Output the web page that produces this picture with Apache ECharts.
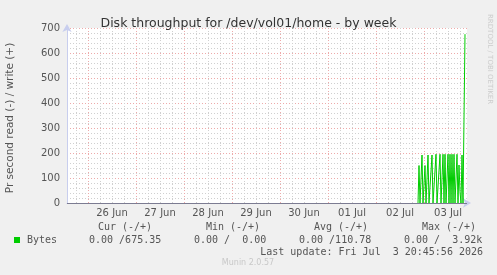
<!DOCTYPE html>
<html>
<head>
<meta charset="utf-8">
<script src="https://cdn.jsdelivr.net/npm/echarts@6/dist/echarts.min.js"></script>
<style>
html,body{margin:0;padding:0;background:#f0f0f0;}
#chart{width:497px;height:275px;}
</style>
</head>
<body>
<div id="chart"></div>
<script>
// ---- data ----
const titleText = 'Disk throughput for /dev/vol01/home - by week';
const yAxisTitle = 'Pr second read (-) / write (+)';
const startUTC = Date.UTC(2026, 5, 25, 13, 30); // first 30-min slot
const slotMinutes = 30;
const slotCount = 401;
const monthNames = ['Jan','Feb','Mar','Apr','May','Jun','Jul','Aug','Sep','Oct','Nov','Dec'];
const yTicks = [0, 100, 200, 300, 400, 500, 600, 700];
// write bytes/s, one value per 30 min, beginning at writeStartSlot (02 Jul 21:00)
const writeStartSlot = 351;
const writeValues = [
  0, 150, 0, 0, 192, 0, 0, 150, 0, 0,
  192, 0, 0, 0, 192, 0, 0, 0, 195, 0,
  0, 0, 195, 0, 0, 195, 0, 195, 0, 0,
  195, 0, 195, 0, 195, 0, 195, 0, 0, 195,
  0, 152, 45, 0, 192, 0, 0, 675.35
];
const legendName = 'Bytes';
const statHeaders = ['Cur (-/+)', 'Min (-/+)', 'Avg (-/+)', 'Max (-/+)'];
const statValues = ['0.00 /675.35', '0.00 /  0.00', '0.00 /110.78', '0.00 /  3.92k'];
const lastUpdate = 'Last update: Fri Jul  3 20:45:56 2026';
const footer = 'Munin 2.0.57';
const watermark = 'RRDTOOL / TOBI OETIKER';

// ---- build ----
function pad(n){return (n<10?'0':'')+n;}
const categories = [];
for (let i = 0; i < slotCount; i++) {
  const d = new Date(startUTC + i * slotMinutes * 60000);
  categories.push(d.getUTCFullYear() + '-' + pad(d.getUTCMonth()+1) + '-' + pad(d.getUTCDate()) + ' ' + pad(d.getUTCHours()) + ':' + pad(d.getUTCMinutes()));
}
const seriesData = categories.map((c, i) => {
  const k = i - writeStartSlot;
  return (k >= 0 && k < writeValues.length) ? writeValues[k] : null;
});
const hm = v => v.slice(11);
const isNoon = (i, v) => hm(v) === '12:00';
const isMidnight = (i, v) => hm(v) === '00:00';
const isSixHour = (i, v) => { const t = hm(v); return t === '06:00' || t === '12:00' || t === '18:00'; };
const dayLabel = v => v.slice(8,10) + ' ' + monthNames[parseInt(v.slice(5,7),10)-1];

const FONT = 'DejaVu Sans';
const MONO = 'DejaVu Sans Mono';
const TXT = '#555555';
const RED = '#eeaaaa';
const GRAY = '#d0d0d0';

const chart = echarts.init(document.getElementById('chart'), null, {renderer:'canvas'});
const grid = {left: 67, top: 28, width: 400, height: 175};
const statX = [89, 194, 299, 404];

const graphics = [
  {type:'text', x: 10, y: 118, rotation: Math.PI/2,
   style:{text: yAxisTitle, fill: TXT, font: '10.5px "' + FONT + '"', align:'center', verticalAlign:'middle'}},
  {type:'rect', shape:{x:14, y:237, width:6, height:6}, style:{fill:'#00cc00'}},
  {type:'text', x: 27, y: 240, style:{text: legendName, fill: TXT, font: '10px "' + MONO + '"', verticalAlign:'middle'}},
  {type:'text', x: 483, y: 252, style:{text: lastUpdate, fill: TXT, font: '10px "' + MONO + '"', align:'right', verticalAlign:'middle'}},
  {type:'text', x: 248, y: 263, style:{text: footer, fill: '#c8c8c8', font: '8px "' + FONT + '"', align:'center', verticalAlign:'middle'}},
  {type:'text', x: 489.5, y: 14, rotation: -Math.PI/2,
   style:{text: watermark, fill: '#cccccc', font: '7px "' + FONT + '"', align:'left', verticalAlign:'middle'}}
];
const headerCenters = [125, 233, 341, 449];
statHeaders.forEach((h, i) => graphics.push({type:'text', x: headerCenters[i], y: 227,
  style:{text: h, fill: TXT, font: '10px "' + MONO + '"', align:'center', verticalAlign:'middle'}}));
statValues.forEach((s, i) => graphics.push({type:'text', x: statX[i], y: 240,
  style:{text: s, fill: TXT, font: '10px "' + MONO + '"', align:'left', verticalAlign:'middle'}}));

chart.setOption({
  backgroundColor: '#f0f0f0',
  animation: false,
  title: {text: titleText, left: 'center', top: 12,
    textStyle: {fontFamily: FONT, fontSize: 12.5, fontWeight: 'normal', color: '#333333'}},
  grid: Object.assign({backgroundColor: '#ffffff', show: true, borderWidth: 0}, grid),
  xAxis: [
    {type: 'category', data: categories, boundaryGap: false, gridIndex: 0,
     axisLine: {show: true, symbol: ['none', 'arrow'], symbolSize: [7, 8], symbolOffset: [0, 4],
       lineStyle: {color: '#c8ceee', width: 1}},
     axisTick: {show: false},
     axisLabel: {interval: isNoon, formatter: dayLabel, color: TXT, fontFamily: FONT, fontSize: 10, margin: 5},
     splitLine: {show: true, interval: isMidnight, lineStyle: {color: RED, type: [1, 2], width: 1}}},
    {type: 'category', data: categories, boundaryGap: false, gridIndex: 0, position: 'bottom',
     axisLine: {show: false}, axisTick: {show: false}, axisLabel: {show: false},
     splitLine: {show: true, interval: isSixHour, lineStyle: {color: GRAY, type: [1, 2], width: 1}}}
  ],
  yAxis: {type: 'value', min: yTicks[0], max: yTicks[yTicks.length-1], interval: 100,
    axisLine: {show: true, symbol: ['none', 'arrow'], symbolSize: [7, 8], symbolOffset: [0, 4],
      lineStyle: {color: '#c8ceee', width: 1}},
    axisTick: {show: false},
    axisLabel: {color: TXT, fontFamily: FONT, fontSize: 10, margin: 7},
    splitLine: {show: true, lineStyle: {color: RED, type: [1, 2], width: 1}},
    minorTick: {show: false, splitNumber: 5},
    minorSplitLine: {show: true, lineStyle: {color: GRAY, type: [1, 2], width: 1}}},
  series: [{
    type: 'line', name: legendName, data: seriesData, xAxisIndex: 0,
    showSymbol: false, connectNulls: false, z: 3,
    lineStyle: {color: '#00cc00', width: 1},
    markLine: {silent: true, symbol: 'none', label: {show: false},
      lineStyle: {color: '#7c7c92', type: 'solid', width: 1}, data: [{yAxis: 0}]}
  }],
  graphic: graphics
});
</script>
</body>
</html>
